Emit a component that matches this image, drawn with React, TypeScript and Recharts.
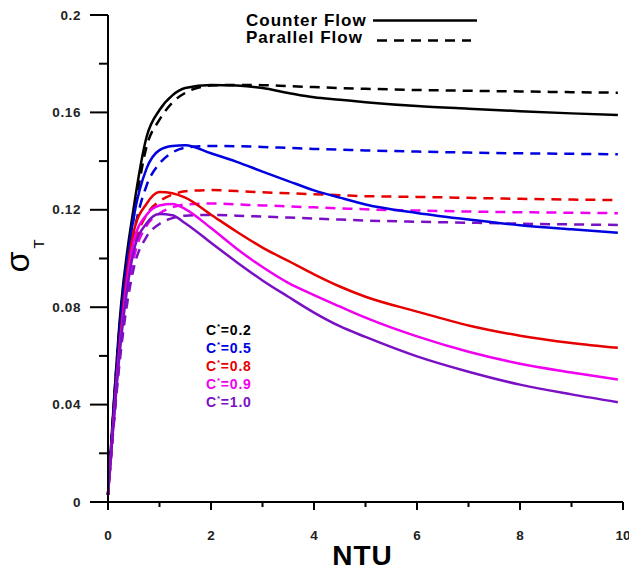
import React from "react";
import { LineChart, Line, XAxis, YAxis, Label } from "recharts";

// NTU grid shared by all curves
const ntu = [0, 0.25, 0.5, 0.75, 1, 1.25, 1.5, 2, 2.5, 3, 3.5, 4, 4.5, 5, 6, 7, 8, 9, 9.9];

// counter flow (solid)
const counter02 = [0.003, 0.080, 0.121, 0.150, 0.161, 0.167, 0.170, 0.1713, 0.1710, 0.1700, 0.1680, 0.1662, 0.1652, 0.1642, 0.1626, 0.1615, 0.1605, 0.1596, 0.1589];
const counter05 = [0.003, 0.076, 0.117, 0.137, 0.1445, 0.1462, 0.1465, 0.1432, 0.1397, 0.1357, 0.1318, 0.1280, 0.1250, 0.1222, 0.1187, 0.1160, 0.1137, 0.1120, 0.1106];
const counter08 = [0.003, 0.070, 0.111, 0.1225, 0.1273, 0.1268, 0.1250, 0.118, 0.111, 0.1045, 0.099, 0.0935, 0.0885, 0.0843, 0.0782, 0.0725, 0.0683, 0.0653, 0.0633];
const counter09 = [0.003, 0.068, 0.107, 0.118, 0.1218, 0.1224, 0.1203, 0.1125, 0.104, 0.0965, 0.0900, 0.0850, 0.0803, 0.0757, 0.0680, 0.0617, 0.0568, 0.0532, 0.0503];
const counter10 = [0.003, 0.066, 0.103, 0.1145, 0.1183, 0.1178, 0.1145, 0.1065, 0.0985, 0.0910, 0.0843, 0.0778, 0.0722, 0.0678, 0.0598, 0.0535, 0.0482, 0.0442, 0.0410];

// parallel flow (dashed)
const parallel02 = [0.003, 0.078, 0.117, 0.146, 0.157, 0.164, 0.168, 0.1710, 0.1713, 0.1712, 0.1708, 0.1704, 0.1700, 0.1697, 0.1692, 0.1689, 0.1686, 0.1683, 0.1681];
const parallel05 = [0.003, 0.072, 0.110, 0.130, 0.139, 0.1435, 0.1455, 0.1462, 0.1461, 0.1458, 0.1454, 0.1450, 0.1447, 0.1444, 0.1439, 0.1435, 0.1432, 0.1430, 0.1428];
const parallel08 = [0.003, 0.066, 0.104, 0.118, 0.1235, 0.1262, 0.1276, 0.1281, 0.1277, 0.1272, 0.1268, 0.1264, 0.1260, 0.1256, 0.1253, 0.1249, 0.1245, 0.1242, 0.1240];
const parallel09 = [0.003, 0.064, 0.100, 0.1135, 0.1185, 0.1210, 0.1222, 0.1226, 0.1222, 0.1218, 0.1214, 0.1210, 0.1206, 0.1202, 0.1197, 0.1193, 0.1190, 0.1188, 0.1186];
const parallel10 = [0.003, 0.062, 0.096, 0.109, 0.1142, 0.1166, 0.1176, 0.1179, 0.1176, 0.1172, 0.1168, 0.1164, 0.1160, 0.1156, 0.1151, 0.1147, 0.1143, 0.1140, 0.1138];

const cValues = ["0.2", "0.5", "0.8", "0.9", "1.0"];
const colors = ["#000000", "#0000e0", "#e60000", "#f000f0", "#7a10c4"];

const xTicks = [0, 1, 2, 3, 4, 5, 6, 7, 8, 9, 10];
const yTicks = [0, 0.02, 0.04, 0.06, 0.08, 0.1, 0.12, 0.14, 0.16, 0.18, 0.2];

const legendItems = [
  { label: "Counter Flow", dash: undefined as string | undefined },
  { label: "Parallel Flow", dash: "10 7" },
];

const counterSeries = [counter02, counter05, counter08, counter09, counter10];
const parallelSeries = [parallel02, parallel05, parallel08, parallel09, parallel10];

const rows = ntu.map((x, i) => {
  const r: Record<string, number> = { ntu: x };
  counterSeries.forEach((s, k) => (r[`cf${k}`] = s[i]));
  parallelSeries.forEach((s, k) => (r[`pf${k}`] = s[i]));
  return r;
});

const FONT = "'Liberation Sans', Arial, sans-serif";

const YTick = (props: any) => {
  const { x, y, payload } = props;
  const v = payload.value as number;
  const major = Math.round(v * 100) % 4 === 0;
  return (
    <g>
      <line x1={x - (major ? 18 : 9)} x2={x} y1={y} y2={y} stroke="#000" strokeWidth={2} />
      {major && (
        <text x={x - 27} y={y} dy={4.5} textAnchor="end" fontFamily={FONT} fontWeight="bold" fontSize={13.5} letterSpacing={0.6} fill="#222">
          {String(Number(v.toFixed(2)))}
        </text>
      )}
    </g>
  );
};

const XTick = (props: any) => {
  const { x, y, payload } = props;
  const v = payload.value as number;
  const major = v % 2 === 0;
  return (
    <g>
      <line x1={x} x2={x} y1={y} y2={y + (major ? 8 : 5)} stroke="#000" strokeWidth={2} />
      {major && (
        <text x={x} y={y + 38} textAnchor="middle" fontFamily={FONT} fontWeight="bold" fontSize={13.5} fill="#222">
          {v}
        </text>
      )}
    </g>
  );
};

const SigmaLabel = (props: any) => {
  const vb = props.viewBox || { x: 18, y: 15, width: 90, height: 487 };
  const cx = vb.x + 11;
  const cy = vb.y + vb.height / 2 - 2.5;
  return (
    <text x={cx} y={cy} transform={`rotate(-90 ${cx} ${cy})`} textAnchor="middle" fontFamily={FONT} fontSize={34} fill="#000">
      σ
      <tspan fontSize={15} dx={3} dy={15}>T</tspan>
    </text>
  );
};

const NtuLabel = (props: any) => {
  const vb = props.viewBox || { x: 108, y: 502, width: 515, height: 69 };
  return (
    <text x={vb.x + vb.width / 2 - 3} y={vb.y + 63} textAnchor="middle" fontFamily={FONT} fontWeight="bold" fontSize={28} letterSpacing={1} fill="#000">
      NTU
    </text>
  );
};

export default function App() {
  return (
    <div style={{ position: "absolute", left: 0, top: 0, width: 629, height: 571, background: "#fff" }}>
      <LineChart width={629} height={571} data={rows} margin={{ top: 15, right: 6, left: 18, bottom: 0 }}>
        <XAxis
          type="number"
          dataKey="ntu"
          domain={[0, 10]}
          ticks={xTicks}
          height={69}
          tickSize={0}
          tickMargin={0}
          tickLine={false}
          axisLine={{ stroke: "#000", strokeWidth: 2 }}
          tick={<XTick />}
          interval={0}
        >
          <Label content={<NtuLabel />} />
        </XAxis>
        <YAxis
          type="number"
          domain={[0, 0.2]}
          ticks={yTicks}
          width={90}
          tickSize={0}
          tickMargin={0}
          tickLine={false}
          axisLine={{ stroke: "#000", strokeWidth: 2 }}
          tick={<YTick />}
          interval={0}
        >
          <Label content={<SigmaLabel />} />
        </YAxis>
        {parallelSeries.map((_, k) => (
          <Line
            key={`pf${k}`}
            type="monotone"
            dataKey={`pf${k}`}
            stroke={colors[k]}
            strokeWidth={2.5}
            strokeDasharray="10 7"
            dot={false}
            isAnimationActive={false}
          />
        ))}
        {counterSeries.map((_, k) => (
          <Line
            key={`cf${k}`}
            type="monotone"
            dataKey={`cf${k}`}
            stroke={colors[k]}
            strokeWidth={2.5}
            dot={false}
            isAnimationActive={false}
          />
        ))}
      </LineChart>
      <svg width={629} height={571} style={{ position: "absolute", left: 0, top: 0, pointerEvents: "none" }}>
        {legendItems.map((item, i) => (
          <g key={item.label}>
            <text x={246} y={25.5 + i * 17.5} fontFamily={FONT} fontWeight="bold" fontSize={17} letterSpacing={1} fill="#000">
              {item.label}
            </text>
            <line
              x1={item.dash ? 377 : 373}
              x2={item.dash ? 471 : 477}
              y1={20.5 + i * 20}
              y2={20.5 + i * 20}
              stroke="#000"
              strokeWidth={2.5}
              strokeDasharray={item.dash}
            />
          </g>
        ))}
        {cValues.map((c, i) => (
          <text key={c} x={206} y={335 + i * 18} fontFamily={FONT} fontWeight="bold" fontSize={14} letterSpacing={0.8} fill={colors[i]}>
            C
            <tspan fontSize={8} dy={-6}>*</tspan>
            <tspan dy={6}>={c}</tspan>
          </text>
        ))}
      </svg>
    </div>
  );
}
